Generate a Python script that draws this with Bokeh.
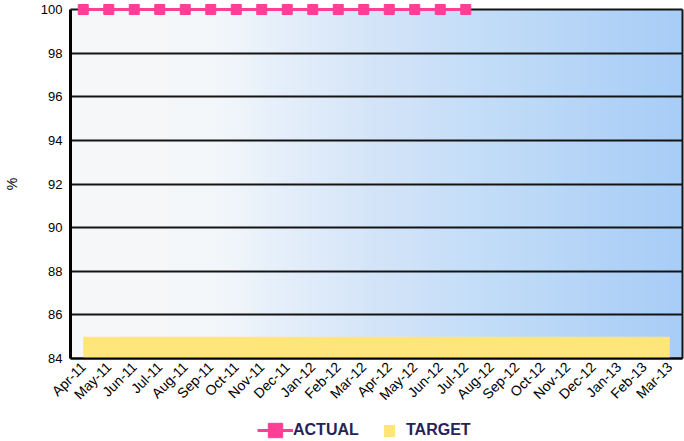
import numpy as np
from bokeh.plotting import figure
from bokeh.models import Range1d, FixedTicker, Legend, LegendItem
from bokeh.embed import file_html
from bokeh.resources import INLINE

# ---- data -------------------------------------------------------------
months = ["Apr-11", "May-11", "Jun-11", "Jul-11", "Aug-11", "Sep-11",
          "Oct-11", "Nov-11", "Dec-11", "Jan-12", "Feb-12", "Mar-12",
          "Apr-12", "May-12", "Jun-12", "Jul-12", "Aug-12", "Sep-12",
          "Oct-12", "Nov-12", "Dec-12", "Jan-13", "Feb-13", "Mar-13"]
actual = [100, 100, 100, 100, 100, 100, 100, 100,
          100, 100, 100, 100, 100, 100, 100, 100]
target = [85, 85, 85, 85, 85, 85, 85, 85, 85, 85, 85, 85,
          85, 85, 85, 85, 85, 85, 85, 85, 85, 85, 85, 85]
y_ticks = [84, 86, 88, 90, 92, 94, 96, 98, 100]

PINK = "#ff3f95"
YELLOW = "#fee67c"
INK = "#141414"

# ---- geometry ---------------------------------------------------------
W, H = 684, 441
AXIS_X = 70                     # canvas column of the y axis
AXIS_Y = 358                    # canvas row of the x axis
band = 25.5                     # px per month
unit = 21.8125                  # px per percentage point
n = len(months)
xs = np.arange(n)
x_lo = -0.5
x_hi = x_lo + n
y0, y1 = y_ticks[0], y_ticks[-1]

# the frame covers the whole canvas; both axes are pinned in data space
p = figure(width=W, height=H,
           x_range=Range1d(x_lo - AXIS_X / band, x_lo + (W - AXIS_X) / band),
           y_range=Range1d(y0 - (H - AXIS_Y) / unit, y0 + AXIS_Y / unit),
           min_border=0, output_backend="svg", toolbar_location=None)
p.outline_line_color = None
p.background_fill_color = "white"
p.border_fill_color = "white"

# horizontal white-to-blue gradient behind the data area
stops_t = [0.0, 0.24, 0.32, 0.49, 0.70, 1.0]
stops_c = np.array([[247, 248, 249], [244, 247, 250], [232, 241, 251],
                    [213, 229, 248], [193, 220, 248], [168, 205, 247]])
npx = int(n * band)
t = np.linspace(0, 1, npx)
img = np.empty((1, npx), dtype=np.uint32)
view = img.view(dtype=np.uint8).reshape((1, npx, 4))
for k in range(3):
    view[0, :, k] = np.interp(t, stops_t, stops_c[:, k]).astype(np.uint8)
view[0, :, 3] = 255
bg = p.image_rgba(image=[img], x=x_lo, y=y0, dw=n, dh=y1 - y0)
bg.level = "image"

# grid, limited to the data area
p.xgrid.visible = False
p.ygrid.ticker = FixedTicker(ticks=y_ticks)
p.ygrid.bounds = (y0, y1)
p.ygrid.cross_bounds = (x_lo, x_hi)
p.ygrid.grid_line_color = INK
p.ygrid.grid_line_width = 2

# right edge of the data area
p.segment(x0=[x_hi], y0=[y0], x1=[x_hi], y1=[y1],
          line_color=INK, line_width=2)

# series
tgt = p.varea(x=xs, y1=[y0] * n, y2=target, fill_color=YELLOW)
ax = xs[:len(actual)]
act_line = p.line(ax, actual, line_color=PINK, line_width=3)
act_pts = p.scatter(ax, actual, marker="square", size=10,
                    fill_color=PINK, line_color=PINK)

# axes
yaxis = p.yaxis[0]
yaxis.fixed_location = x_lo
yaxis.ticker = FixedTicker(ticks=y_ticks)
yaxis.bounds = (y0, y1)
yaxis.axis_line_width = 3
yaxis.axis_line_color = "black"
yaxis.major_tick_line_color = None
yaxis.minor_tick_line_color = None
yaxis.major_tick_out = 0
yaxis.major_tick_in = 0
yaxis.major_label_standoff = 8
yaxis.major_label_text_font = "Liberation Sans"
yaxis.major_label_text_font_size = "13px"
yaxis.major_label_text_color = "black"
yaxis.axis_label = "%"
yaxis.axis_label_text_font = "Liberation Sans"
yaxis.axis_label_text_font_style = "normal"
yaxis.axis_label_text_font_size = "14px"
yaxis.axis_label_text_color = "black"
yaxis.axis_label_standoff = 18

xaxis = p.xaxis[0]
xaxis.fixed_location = y0
xaxis.ticker = FixedTicker(ticks=list(xs))
xaxis.major_label_overrides = {int(i): m for i, m in zip(xs, months)}
xaxis.bounds = (x_lo, x_hi)
xaxis.axis_line_width = 2
xaxis.axis_line_color = "black"
xaxis.major_tick_line_color = None
xaxis.minor_tick_line_color = None
xaxis.major_tick_out = 0
xaxis.major_tick_in = 0
xaxis.major_label_standoff = 6
xaxis.major_label_orientation = np.pi / 4
xaxis.major_label_text_font = "Liberation Sans"
xaxis.major_label_text_font_size = "14px"
xaxis.major_label_text_color = "black"

# legend along the bottom
common = dict(orientation="horizontal", padding=0, margin=0, spacing=0,
              border_line_color=None, background_fill_alpha=0,
              label_text_font="Liberation Sans", label_text_font_style="bold",
              label_text_font_size="16px", label_text_color="#24235a")
leg_a = Legend(items=[LegendItem(label="ACTUAL", renderers=[act_line, act_pts])],
               location=(257, -8), glyph_width=36, glyph_height=38,
               label_standoff=0, **common)
leg_t = Legend(items=[LegendItem(label="TARGET", renderers=[tgt])],
               location=(382, 2), glyph_width=14, glyph_height=15,
               label_height=15, label_standoff=10, **common)
p.add_layout(leg_a)
p.add_layout(leg_t)

open("out.html", "w").write(file_html(p, INLINE))
